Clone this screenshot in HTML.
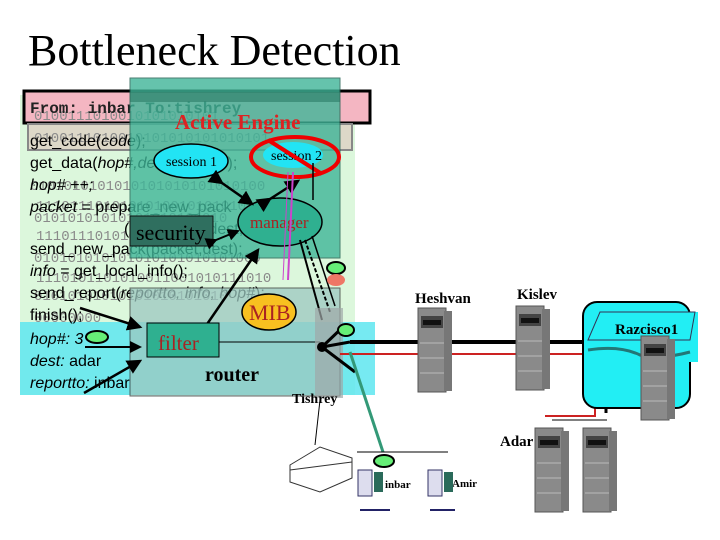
<!DOCTYPE html>
<html><head><meta charset="utf-8"><style>
html,body{margin:0;padding:0;background:#fff;width:720px;height:540px;overflow:hidden}
svg{display:block}
</style></head><body>
<svg width="720" height="540" viewBox="0 0 720 540" xmlns="http://www.w3.org/2000/svg">
<defs>
<marker id="a" markerWidth="6" markerHeight="6" refX="5" refY="3" orient="auto" markerUnits="strokeWidth"><path d="M0,0 L6,3 L0,6 z" fill="#000"/></marker>
<g id="s"><rect x="0" y="0" width="28" height="84" fill="#8a8a8a" stroke="#555"/><rect x="26" y="3" width="8" height="80" fill="#777"/><rect x="3" y="8" width="22" height="12" fill="#444"/><rect x="5" y="12" width="18" height="5" fill="#111"/><line x1="2" y1="35" x2="26" y2="35" stroke="#bbb"/><line x1="2" y1="50" x2="26" y2="50" stroke="#bbb"/><line x1="2" y1="65" x2="26" y2="65" stroke="#bbb"/></g>
</defs>
<text x="28" y="65" font-family="Liberation Serif,serif" font-size="44" fill="#000">Bottleneck Detection</text>
<rect x="20" y="95" width="335" height="300" fill="#dcf7dc"/>
<rect x="20" y="322" width="355" height="73" fill="#5ee6f0" opacity="0.85"/>
<rect x="24" y="91" width="346" height="32" fill="#f4b6c2" stroke="#000" stroke-width="3"/>
<rect x="28" y="124" width="324" height="26" fill="#ddd8c8" stroke="#888" stroke-width="2"/>
<g font-family="Liberation Mono,monospace" font-size="14" fill="#8a8a8a">
<text x="34" y="120">0100111010010101010101</text>
<text x="34" y="142">0100111010010101010101010101</text>
<text x="30" y="190">0101010101010101010101010100</text>
<text x="36" y="210">1110111010101010010101010</text>
<text x="34" y="222">01010101010101010101010</text>
<text x="36" y="240">11101110101010</text>
<text x="34" y="262">010101010101010101010101000</text>
<text x="36" y="282">1110101101010011001010111010</text>
<text x="34" y="300">01010101010101010101010</text>
<text x="34" y="322">00000000</text>
</g>
<g font-family="Liberation Mono,monospace" font-size="16" font-weight="bold" fill="#222">
<text x="30" y="113">From: inbar    To:tishrey</text></g>
<g font-family="Liberation Sans,sans-serif" font-size="16" fill="#000">
<text x="30" y="146">get_code(<tspan font-style="italic">code</tspan>);</text>
<text x="30" y="168">get_data(<tspan font-style="italic">hop#,dest,reportto</tspan>);</text>
<text x="30" y="190" font-style="italic">hop# ++;</text>
<text x="30" y="212"><tspan font-style="italic">packet</tspan> = prepare_new_pack</text>
<text x="124" y="234">(code,hop#,dest,info);</text>
<text x="30" y="254">send_new_pack(packet,dest);</text>
<text x="30" y="276"><tspan font-style="italic">info</tspan> = get_local_info();</text>
<text x="30" y="298">send_report(<tspan font-style="italic">reportto, info, hop#</tspan>);</text>
<text x="30" y="320">finish();</text>
<text x="30" y="344" font-style="italic">hop#: 3</text>
<text x="30" y="366"><tspan font-style="italic">dest:</tspan> adar</text>
<text x="30" y="388"><tspan font-style="italic">reportto:</tspan> inbar</text>
</g>
<rect x="130" y="78" width="210" height="180" fill="#3fb598" opacity="0.8" stroke="#1f5f4f" stroke-width="1"/>
<rect x="130" y="92" width="210" height="10" fill="#1f6f5a" opacity="0.5"/>
<text x="175" y="129" font-family="Liberation Serif,serif" font-weight="bold" font-size="21" fill="#dd2222">Active Engine</text>
<rect x="130" y="288" width="210" height="108" fill="#9cc8c0" opacity="0.75" stroke="#333" stroke-width="1"/>
<ellipse cx="191" cy="161" rx="37" ry="17" fill="#22e4f4" stroke="#000" stroke-width="1.5"/>
<text x="166" y="166" font-family="Liberation Serif,serif" font-size="14" fill="#000">session 1</text>
<ellipse cx="293" cy="155" rx="30" ry="13" fill="#22e4f4"/>
<text x="271" y="160" font-family="Liberation Serif,serif" font-size="14" fill="#000">session 2</text>
<ellipse cx="295" cy="157" rx="44" ry="20" fill="none" stroke="#ee0000" stroke-width="4"/>
<line x1="268" y1="140" x2="322" y2="174" stroke="#ee0000" stroke-width="4"/>
<ellipse cx="280" cy="222" rx="42" ry="24" fill="#2fb090" stroke="#000" stroke-width="1.5"/>
<text x="250" y="228" font-family="Liberation Serif,serif" font-size="17" fill="#aa2222">manager</text>
<rect x="130" y="216" width="83" height="30" fill="#2f6f5f" stroke="#111" stroke-width="1"/>
<text x="136" y="240" font-family="Liberation Serif,serif" font-size="22" fill="#000">security</text>
<g stroke="#000" stroke-width="3" fill="none">
<line x1="222" y1="183" x2="252" y2="204" marker-end="url(#a)" marker-start="url(#a)" stroke-width="2.5"/>
<line x1="270" y1="199" x2="298" y2="181" marker-end="url(#a)" marker-start="url(#a)" stroke-width="2.5"/>
<line x1="216" y1="240" x2="238" y2="231" marker-end="url(#a)" marker-start="url(#a)" stroke-width="2"/>
<line x1="313" y1="163" x2="313" y2="200" stroke-width="1.5"/>
<line x1="203" y1="330" x2="258" y2="250" marker-end="url(#a)" stroke-width="2.5"/>
<line x1="80" y1="308" x2="140" y2="327" marker-end="url(#a)" stroke-width="2.5"/>
<line x1="85" y1="347" x2="140" y2="347" marker-end="url(#a)" stroke-width="2"/>
<line x1="84" y1="393" x2="140" y2="361" marker-end="url(#a)" stroke-width="2.5"/>
<line x1="300" y1="240" x2="322" y2="320" stroke-width="2"/>
<line x1="305" y1="240" x2="330" y2="312" stroke-width="2" stroke-dasharray="4 2"/>
<line x1="312" y1="236" x2="335" y2="306" stroke-width="1.5"/>
</g>
<line x1="293" y1="172" x2="288" y2="280" stroke="#cc44cc" stroke-width="2"/>
<line x1="288" y1="172" x2="283" y2="280" stroke="#cc44cc" stroke-width="1"/>
<ellipse cx="269" cy="312" rx="27" ry="18" fill="#f8c020" stroke="#000" stroke-width="1.5"/>
<text x="249" y="320" font-family="Liberation Serif,serif" font-size="22" fill="#aa2222">MIB</text>
<ellipse cx="336" cy="268" rx="9" ry="6" fill="#66ee77" stroke="#000" stroke-width="2"/>
<ellipse cx="336" cy="280" rx="9" ry="6" fill="#ee7766"/>
<rect x="147" y="323" width="72" height="34" fill="#2fb090" stroke="#000" stroke-width="1"/>
<text x="158" y="350" font-family="Liberation Serif,serif" font-size="21" fill="#aa2222">filter</text>
<text x="205" y="381" font-family="Liberation Serif,serif" font-weight="bold" font-size="20" fill="#000">router</text>
<line x1="219" y1="342" x2="320" y2="342" stroke="#000" stroke-width="1"/>
<ellipse cx="97" cy="337" rx="11" ry="6" fill="#66ee77" stroke="#000" stroke-width="2"/>
<rect x="315" y="308" width="28" height="90" fill="#a0a8a8" opacity="0.7"/>
<circle cx="322" cy="347" r="5" fill="#000"/>
<g stroke="#000" stroke-width="3"><line x1="322" y1="347" x2="345" y2="325"/><line x1="322" y1="347" x2="350" y2="342"/><line x1="322" y1="347" x2="355" y2="372"/></g>
<ellipse cx="346" cy="330" rx="8" ry="6" fill="#66ee77" stroke="#000" stroke-width="2"/>
<text x="292" y="403" font-family="Liberation Serif,serif" font-weight="bold" font-size="14" fill="#000">Tishrey</text>
<line x1="350" y1="342" x2="590" y2="342" stroke="#000" stroke-width="4"/>
<line x1="340" y1="354" x2="595" y2="354" stroke="#cc2222" stroke-width="2"/>
<line x1="595" y1="354" x2="595" y2="415" stroke="#cc2222" stroke-width="2"/>
<line x1="545" y1="416" x2="596" y2="416" stroke="#cc2222" stroke-width="2"/>
<line x1="606" y1="362" x2="606" y2="413" stroke="#000" stroke-width="3"/>
<line x1="552" y1="420" x2="607" y2="420" stroke="#000" stroke-width="1"/>
<line x1="350" y1="352" x2="383" y2="452" stroke="#339977" stroke-width="3"/>
<line x1="320" y1="400" x2="315" y2="445" stroke="#000" stroke-width="1"/>
<line x1="357" y1="452" x2="448" y2="452" stroke="#000" stroke-width="1"/>
<rect x="583" y="302" width="107" height="106" rx="14" fill="#22eef4" stroke="#000" stroke-width="2"/>
<rect x="678" y="312" width="20" height="50" fill="#22eef4"/>
<polygon points="588,340 600,312 695,312 690,340" fill="none" stroke="#335" stroke-width="1"/>
<path d="M588 350 Q620 345 640 355 Q660 360 690 352" fill="none" stroke="#227777" stroke-width="3"/>
<use href="#s" x="418" y="308"/>
<use href="#s" x="516" y="306"/>
<use href="#s" x="641" y="336"/>
<use href="#s" x="535" y="428"/>
<use href="#s" x="583" y="428"/>
<g font-family="Liberation Serif,serif" font-weight="bold" font-size="15" fill="#000">
<text x="415" y="303">Heshvan</text>
<text x="517" y="299">Kislev</text>
<text x="615" y="334">Razcisco1</text>
<text x="500" y="446">Adar</text>
<text x="385" y="488" font-size="11">inbar</text>
<text x="452" y="487" font-size="11">Amir</text>
</g>
<polygon points="290,465 320,447 352,458 352,478 320,492 290,482" fill="#fff" stroke="#333"/>
<line x1="290" y1="470" x2="352" y2="462" stroke="#333"/>
<ellipse cx="384" cy="461" rx="10" ry="6" fill="#66ee77" stroke="#000" stroke-width="2"/>
<g fill="#dde" stroke="#336"><rect x="358" y="470" width="14" height="26"/><rect x="428" y="470" width="14" height="26"/></g>
<rect x="374" y="472" width="9" height="20" fill="#2a6a5a"/><rect x="444" y="472" width="9" height="20" fill="#2a6a5a"/>
<g stroke="#226" stroke-width="2"><line x1="360" y1="510" x2="390" y2="510"/><line x1="430" y1="510" x2="455" y2="510"/></g>
</svg>
</body></html>
